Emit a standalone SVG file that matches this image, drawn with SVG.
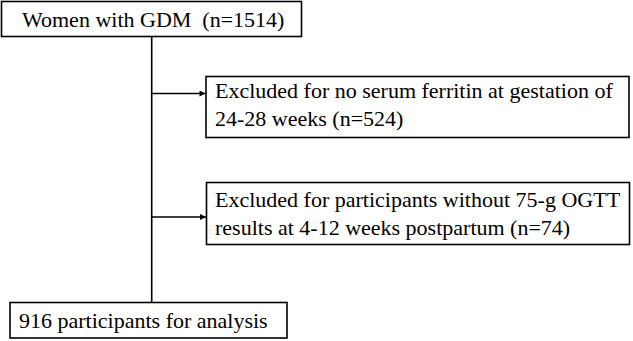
<svg xmlns="http://www.w3.org/2000/svg" width="633" height="341" viewBox="0 0 633 341">
<style>
.box{fill:#fff;stroke:#000;stroke-width:1.6}
.t{font-family:"Liberation Serif","Times New Roman",serif;font-size:22px;fill:#000}
.c{stroke:#000;stroke-width:1.6;fill:none}
</style>
<defs>
<marker id="ah" viewBox="0 0 10 10" refX="10" refY="5" markerWidth="7" markerHeight="6" orient="auto" markerUnits="userSpaceOnUse">
<path d="M0,0 L10,5 L0,10 z" fill="#000"/>
</marker>
</defs>
<rect width="633" height="341" fill="#fff"/>
<g id="connectors">
<line class="c" x1="151.7" y1="36.5" x2="151.7" y2="302.5"/>
<line class="c" x1="151.7" y1="93.5" x2="205.5" y2="93.5" marker-end="url(#ah)"/>
<line class="c" x1="151.7" y1="217" x2="206" y2="217" marker-end="url(#ah)"/>
</g>
<g id="n1">
<rect class="box" x="1.5" y="1.5" width="300" height="35"/>
<text class="t" x="22" y="27" xml:space="preserve">Women with GDM  (n=1514)</text>
</g>
<g id="n2">
<rect class="box" x="206" y="76.5" width="423" height="61"/>
<text class="t" x="215" y="98">Excluded for no serum ferritin at gestation of</text>
<text class="t" x="215" y="126">24-28 weeks (n=524)</text>
</g>
<g id="n3">
<rect class="box" x="206.5" y="182.5" width="423" height="62"/>
<text class="t" x="215" y="207">Excluded for participants without 75-g OGTT</text>
<text class="t" x="215" y="235">results at 4-12 weeks postpartum (n=74)</text>
</g>
<g id="n4">
<rect class="box" x="10" y="302.5" width="277" height="35.5"/>
<text class="t" x="19" y="328">916 participants for analysis</text>
</g>
</svg>
